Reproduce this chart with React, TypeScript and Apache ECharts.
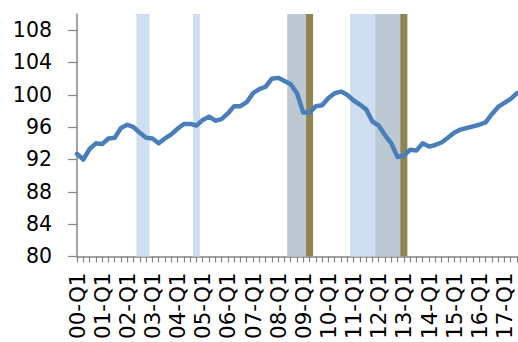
import React, { useEffect, useRef } from "react";
import * as echarts from "echarts";

// Quarterly index, 2000-Q1 to 2017-Q3
const years = ["00", "01", "02", "03", "04", "05", "06", "07", "08", "09", "10", "11", "12", "13", "14", "15", "16", "17"];
const quarterNames = ["Q1", "Q2", "Q3", "Q4"];
const categories = years.flatMap((y) => quarterNames.map((q) => `${y}-${q}`)).slice(0, 71);

const indexValues = [
  92.7, 92.0, 93.3, 94.0, 93.9, 94.6, 94.7, 95.9, 96.3, 96.0,
  95.3, 94.7, 94.6, 94.0, 94.6, 95.1, 95.8, 96.4, 96.4, 96.2,
  96.9, 97.3, 96.8, 97.0, 97.7, 98.6, 98.6, 99.1, 100.2, 100.7,
  101.0, 102.0, 102.1, 101.7, 101.3, 100.2, 97.8, 97.8, 98.6, 98.7,
  99.6, 100.2, 100.4, 100.0, 99.3, 98.8, 98.2, 96.7, 96.2, 95.0,
  94.0, 92.3, 92.5, 93.2, 93.1, 94.0, 93.6, 93.8, 94.1, 94.7,
  95.3, 95.7, 95.9, 96.1, 96.3, 96.6, 97.6, 98.5, 99.0, 99.5,
  100.2,
];

// Shaded periods
const lightBlueQuarters = ["02-Q3", "02-Q4", "04-Q4", "11-Q1", "11-Q2", "11-Q3", "11-Q4"];
const greyQuarters = ["08-Q3", "08-Q4", "09-Q1", "12-Q1", "12-Q2", "12-Q3", "12-Q4"];
const oliveQuarters = ["09-Q2", "13-Q1"];

const yTicks = [80, 84, 88, 92, 96, 100, 104, 108];
const yMin = 80;
const yMax = 110;

const FONT = "DejaVu Sans";
const AXIS_GREY = "#868686";

function bandData(periods: string[]) {
  return categories.map((c) => (periods.includes(c) ? yMax : "-"));
}

function bandSeries(name: string, periods: string[], color: string) {
  return {
    name,
    type: "bar",
    data: bandData(periods),
    // a touch wider than one quarter so neighbouring bars overlap without seams
    barWidth: 7,
    barGap: "-100%",
    barCategoryGap: "0%",
    clip: true,
    itemStyle: { color },
    silent: true,
  };
}

export default function App() {
  const ref = useRef<HTMLDivElement>(null);

  useEffect(() => {
    if (!ref.current) return;
    const chart = echarts.init(ref.current, undefined, { renderer: "svg" });
    chart.setOption({
      animation: false,
      backgroundColor: "#ffffff",
      grid: { left: 77, right: 1, top: 14, bottom: 81, containLabel: false },
      xAxis: {
        type: "category",
        data: categories,
        boundaryGap: false,
        axisLine: { show: true, lineStyle: { color: AXIS_GREY, width: 1.5 } },
        axisTick: { show: true, interval: 0, length: 6, lineStyle: { color: AXIS_GREY, width: 1.2 } },
        axisLabel: {
          interval: 3,
          rotate: 90,
          margin: 16,
          color: "#000",
          fontFamily: FONT,
          fontSize: 21.5,
        },
        splitLine: { show: false },
      },
      yAxis: {
        type: "value",
        min: yMin,
        max: yMax,
        interval: 4,
        axisLine: { show: true, lineStyle: { color: AXIS_GREY, width: 1.5 } },
        axisTick: { show: true, length: 9, customValues: yTicks, lineStyle: { color: AXIS_GREY, width: 1.2 } },
        axisLabel: {
          customValues: yTicks,
          margin: 25,
          color: "#000",
          fontFamily: FONT,
          fontSize: 20.5,
        },
        splitLine: { show: false },
      },
      series: [
        bandSeries("lightBlue", lightBlueQuarters, "#CFDEF1"),
        bandSeries("grey", greyQuarters, "#BDC9D2"),
        bandSeries("olive", oliveQuarters, "#8F8552"),
        {
          name: "index",
          type: "line",
          data: indexValues,
          symbol: "none",
          smooth: false,
          z: 5,
          lineStyle: { color: "#4A7EBB", width: 4.5, join: "round", cap: "round" },
        },
      ],
    });
    return () => chart.dispose();
  }, []);

  return <div ref={ref} style={{ position: "fixed", left: 0, top: 0, width: 518, height: 342 }} />;
}
